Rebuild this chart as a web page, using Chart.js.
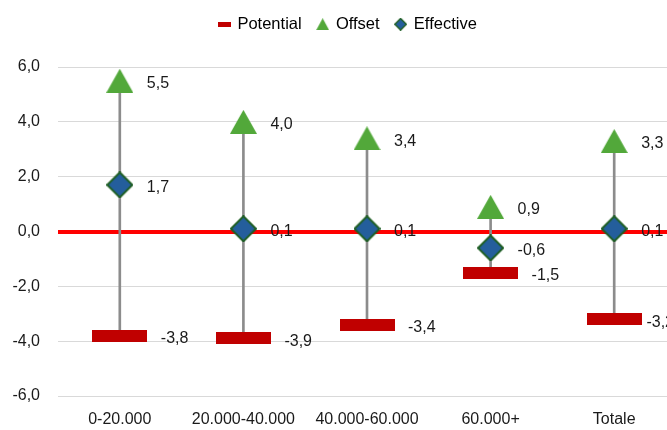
<!DOCTYPE html>
<html>
<head>
<meta charset="utf-8">
<script src="https://cdn.jsdelivr.net/npm/chart.js@4.4.1/dist/chart.umd.min.js"></script>
<style>
  html, body { margin: 0; padding: 0; background: #fff; overflow: hidden; }
  #wrap { position: relative; width: 696px; height: 430px; }
</style>
</head>
<body>
<div id="wrap"><canvas id="rangeChart"></canvas></div>
<script>
// income bands and the three series
const categories = ['0-20.000', '20.000-40.000', '40.000-60.000', '60.000+', 'Totale'];
const potential = [-3.8, -3.9, -3.4, -1.5, -3.2];
const offset = [5.5, 4.0, 3.4, 0.9, 3.3];
const effective = [1.7, 0.1, 0.1, -0.6, 0.1];
const yTicks = [-6, -4, -2, 0, 2, 4, 6];

const FONT = '"Liberation Sans", Arial, sans-serif';
const RED = '#C00000';
const GREEN = '#52A83A';
const BLUE = '#245E9C';
const DIAMOND_EDGE = '#1E5E24';

function fmt(v) {
    return v.toFixed(1).replace('.', ',');
}

// small canvases used as point markers
function marker(w, h, draw) {
    const c = document.createElement('canvas');
    c.width = w;
    c.height = h;
    draw(c.getContext('2d'), w, h);
    return c;
}
function rectMarker(w, h) {
    return marker(w, h, (g) => { g.fillStyle = RED; g.fillRect(0, 0, w, h); });
}
function triMarker(w, h) {
    return marker(w, h, (g) => {
        g.fillStyle = GREEN;
        g.beginPath();
        g.moveTo(w / 2, 0);
        g.lineTo(w, h);
        g.lineTo(0, h);
        g.closePath();
        g.fill();
    });
}
function diamondMarker(s, lw) {
    return marker(s, s, (g) => {
        const m = s / 2, r = s / 2 - lw / 2;
        g.beginPath();
        g.moveTo(m, m - r);
        g.lineTo(m + r, m);
        g.lineTo(m, m + r);
        g.lineTo(m - r, m);
        g.closePath();
        g.fillStyle = BLUE;
        g.fill();
        g.lineWidth = lw;
        g.strokeStyle = DIAMOND_EDGE;
        g.stroke();
    });
}

const potentialMark = rectMarker(55, 12);
const offsetMark = triMarker(27, 24);
const effectiveMark = diamondMarker(27, 2);

// value labels to the right of each marker, kept inside the plot area
const valueLabels = {
    id: 'valueLabels',
    afterDatasetsDraw(chart) {
        const ctx = chart.ctx;
        const right = chart.chartArea.right - 2;
        ctx.save();
        ctx.font = '16px ' + FONT;
        ctx.fillStyle = '#1a1a1a';
        ctx.textAlign = 'left';
        ctx.textBaseline = 'middle';
        chart.data.datasets.forEach((ds, i) => {
            if (!ds.labelDx) return;
            chart.getDatasetMeta(i).data.forEach((el, j) => {
                const txt = fmt(ds.data[j]);
                const x = Math.min(el.x + ds.labelDx, right - ctx.measureText(txt).width);
                ctx.fillText(txt, x, el.y + 3);
            });
        });
        ctx.restore();
    }
};

// red zero line, under the range lines and markers
const zeroLine = {
    id: 'zeroLine',
    beforeDatasetsDraw(chart) {
        const { ctx, chartArea, scales } = chart;
        const y = Math.round(scales.y.getPixelForValue(0));
        ctx.save();
        ctx.strokeStyle = '#FF0000';
        ctx.lineWidth = 4;
        ctx.beginPath();
        ctx.moveTo(chartArea.left, y);
        ctx.lineTo(chartArea.right, y);
        ctx.stroke();
        ctx.restore();
    }
};

// fixed legend band height; legend centred on the whole canvas
const legendBand = {
    id: 'legendBand',
    beforeInit(chart) {
        const fit = chart.legend.fit;
        chart.legend.fit = function () {
            fit.call(this);
            this.height = 67;
        };
    },
    afterLayout(chart) {
        chart.legend.left += 10;
        chart.legend.right += 10;
    }
};

const legendItems = [
    { text: 'Potential', datasetIndex: 1, pointStyle: rectMarker(13, 5) },
    { text: 'Offset', datasetIndex: 2, pointStyle: triMarker(13, 12) },
    { text: 'Effective', datasetIndex: 3, pointStyle: diamondMarker(13, 1.5) }
];

new Chart(document.getElementById('rangeChart'), {
    type: 'line',
    data: {
        labels: categories,
        datasets: [
            {
                type: 'bar',
                label: 'range',
                data: potential.map((p, i) => [p, offset[i]]),
                backgroundColor: '#8C8C8C',
                barThickness: 2,
                borderWidth: 0,
                order: 10
            },
            {
                label: 'Potential',
                data: potential,
                showLine: false,
                pointStyle: potentialMark,
                labelDx: 41,
                order: 3
            },
            {
                label: 'Offset',
                data: offset,
                showLine: false,
                pointStyle: offsetMark,
                labelDx: 27,
                order: 2
            },
            {
                label: 'Effective',
                data: effective,
                showLine: false,
                pointStyle: effectiveMark,
                labelDx: 27,
                order: 1
            }
        ]
    },
    options: {
        responsive: true,
        maintainAspectRatio: false,
        animation: false,
        events: [],
        layout: { padding: { left: 0, right: 20, top: 0, bottom: 0 } },
        plugins: {
            tooltip: { enabled: false },
            legend: {
                display: true,
                position: 'top',
                labels: {
                    usePointStyle: true,
                    boxWidth: 10,
                    boxHeight: 12,
                    padding: 16,
                    color: '#1a1a1a',
                    font: { family: FONT, size: 16.5 },
                    generateLabels: () => legendItems.map((it) => ({
                        text: it.text,
                        datasetIndex: it.datasetIndex,
                        pointStyle: it.pointStyle,
                        fillStyle: 'transparent',
                        strokeStyle: 'transparent',
                        lineWidth: 0,
                        hidden: false
                    }))
                }
            }
        },
        scales: {
            x: {
                offset: true,
                grid: { display: false },
                border: { display: false },
                ticks: {
                    padding: 6,
                    color: '#1a1a1a',
                    font: { family: FONT, size: 16 },
                    maxRotation: 0,
                    autoSkip: false
                },
                afterFit(scale) { scale.height = 34; }
            },
            y: {
                min: -6,
                max: 6,
                afterBuildTicks(scale) { scale.ticks = yTicks.map((v) => ({ value: v })); },
                grid: {
                    drawTicks: false,
                    color: (c) => c.tick && c.tick.value === 0 ? 'rgba(0,0,0,0)' : '#D9D9D9',
                    lineWidth: 1
                },
                border: { display: false },
                ticks: {
                    padding: 18,
                    color: '#1a1a1a',
                    font: { family: FONT, size: 16 },
                    callback: (v) => fmt(v)
                },
                afterFit(scale) { scale.width = 58; }
            }
        }
    },
    plugins: [legendBand, zeroLine, valueLabels]
});
</script>
</body>
</html>
